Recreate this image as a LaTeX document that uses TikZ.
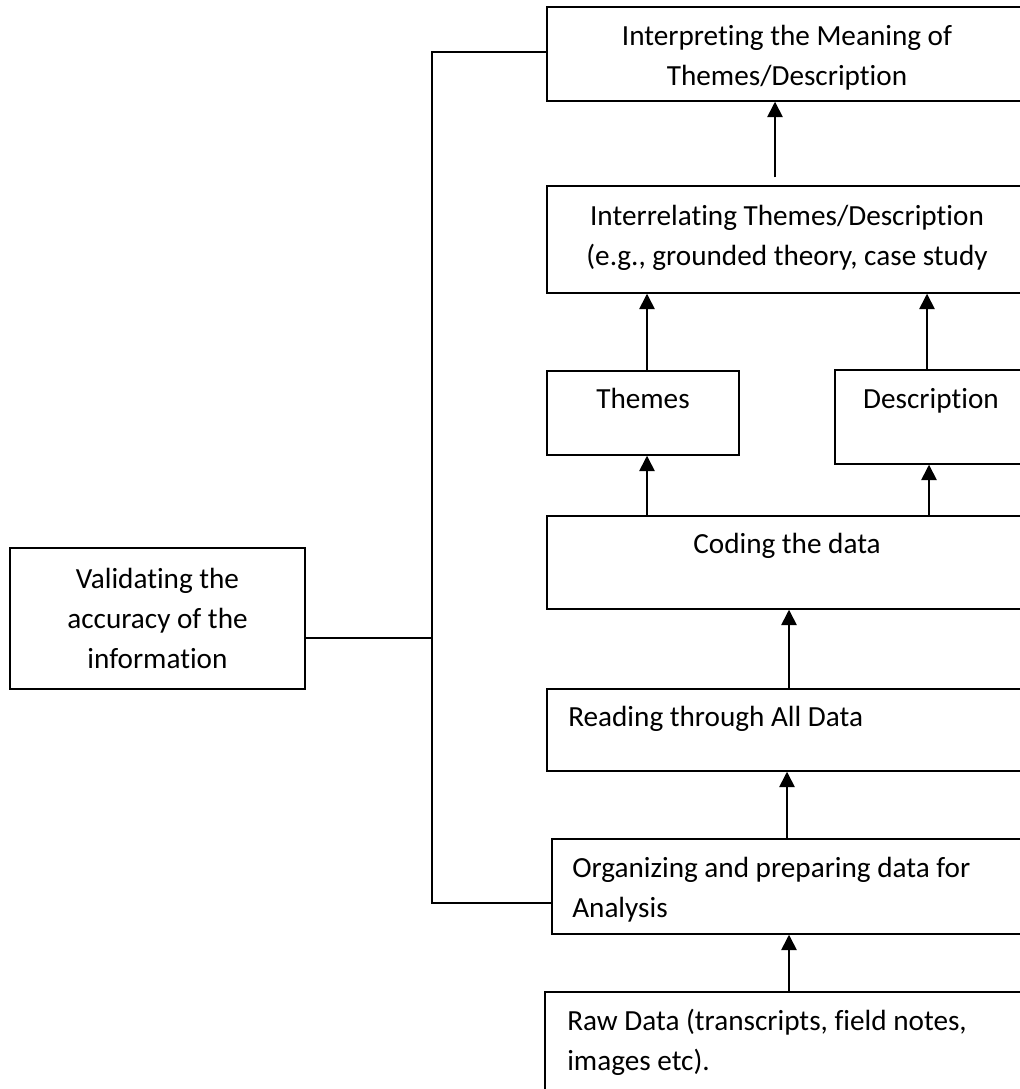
\documentclass[tikz,border=0pt]{standalone}
\usepackage{fontspec}
\setmainfont[Ligatures=NoCommon]{Carlito}
\usetikzlibrary{arrows.meta,fit,calc}
\tikzset{
  box/.style={draw, line width=1.1pt, inner sep=0pt, rectangle},
  txt/.style={inner sep=0pt, font=\fontsize{21.9}{30}\selectfont},
  arr/.style={line width=1.2pt, -{Triangle[width=11.5pt,length=11.5pt]}},
  link/.style={line width=0.8pt}
}
\begin{document}
\begin{tikzpicture}[x=0.75pt,y=-0.75pt]
\useasboundingbox (0,0) rectangle (1020,1089);
\clip (0,0) rectangle (1020,1089);
% boxes
\node[box, fit={(547,7) (1027,101)}] (interp) {};
\node[box, fit={(547,186) (1027,293)}] (interrel) {};
\node[box, fit={(547,371) (739,455)}] (themes) {};
\node[box, fit={(835,370) (1027,464)}] (desc) {};
\node[box, fit={(547,516) (1027,609)}] (coding) {};
\node[box, fit={(547,689) (1027,771)}] (reading) {};
\node[box, fit={(552,839) (1027,934)}] (organ) {};
\node[box, fit={(545,992) (1027,1130)}] (raw) {};
\node[box, fit={(10,548) (305,689)}] (valid) {};
% texts
\node[txt, align=center] (t1) at (787,57) {\strut Interpreting the Meaning of\\\strut Themes/Description};
\node[txt, align=center] (t2) at (787,237) {\strut Interrelating Themes/Description\\\strut (e.g., grounded theory, case study};
\node[txt] (t3) at (643,400) {\strut Themes};
\node[txt] (t4) at (931,400) {\strut Description};
\node[txt] (t5) at (787,545) {\strut Coding the data};
\node[txt, anchor=west] (t6) at (568,718) {\strut Reading through All Data};
\node[txt, anchor=west, align=left] (t7) at (572,889) {\strut Organizing and preparing data for\\\strut Analysis};
\node[txt, anchor=west, align=left] (t8) at (567,1042) {\strut Raw Data (transcripts, field notes,\\\strut images etc).};
\node[txt, align=center] (t9) at (157.5,620) {\strut Validating the\\\strut accuracy of the\\\strut information};
% x positions for arrows
\coordinate (a1) at (775,0);
\coordinate (a2) at (647,0);
\coordinate (a3) at (927,0);
\coordinate (a4) at (929,0);
\coordinate (a5) at (789,0);
\coordinate (a6) at (787,0);
% arrows
\draw[arr] ($(interrel.north -| a1)+(0,-8)$) -- (interp.south -| a1);
\draw[arr] (themes.north -| a2) -- (interrel.south -| a2);
\draw[arr] (desc.north -| a3) -- (interrel.south -| a3);
\draw[arr] (coding.north -| a2) -- (themes.south -| a2);
\draw[arr] (coding.north -| a4) -- (desc.south -| a4);
\draw[arr] (reading.north -| a5) -- (coding.south -| a5);
\draw[arr] (organ.north -| a6) -- (reading.south -| a6);
\draw[arr] (raw.north -| a5) -- (organ.south -| a5);
% left connector
\coordinate (jt) at (432,52);
\coordinate (jb) at (432,903);
\coordinate (jm) at (432,638);
\draw[link] (interp.west |- jt) -- (jt) -- (jb) -- (organ.west |- jb);
\draw[link] (valid.east |- jm) -- (jm);
\end{tikzpicture}
\end{document}
